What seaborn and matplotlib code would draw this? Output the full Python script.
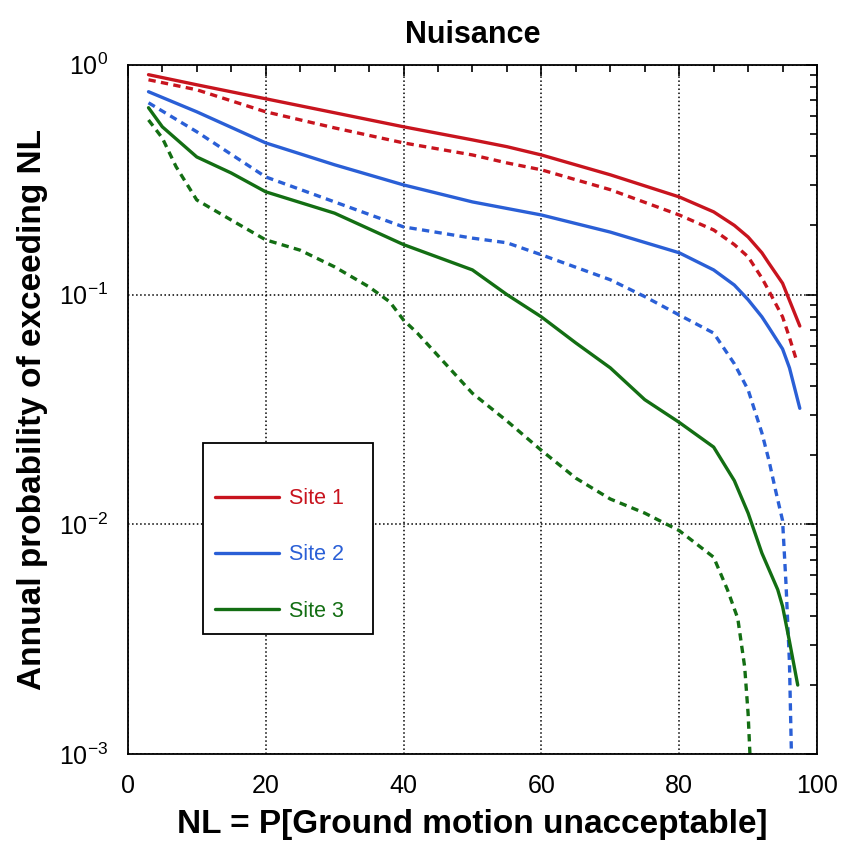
import matplotlib
matplotlib.use("Agg")
import matplotlib.pyplot as plt
from matplotlib.lines import Line2D
from matplotlib.patches import Rectangle
from matplotlib.ticker import MultipleLocator, LogLocator, NullFormatter
import numpy as np
import pandas as pd
import seaborn as sns

# Data (NL in %, annual probability)
site1_x = [3, 10, 20, 30, 40, 50, 55, 60, 70, 80, 85, 88, 90, 92, 93, 95, 97.5]
site1_y = [0.905, 0.818, 0.711, 0.618, 0.537, 0.471, 0.44, 0.405, 0.332, 0.266, 0.229, 0.2, 0.178, 0.152, 0.137, 0.112, 0.073]
site1d_x = [3, 10, 20, 30, 40, 50, 55, 60, 70, 80, 85, 88, 90, 92, 93, 95, 96, 97]
site1d_y = [0.86, 0.778, 0.624, 0.531, 0.457, 0.405, 0.374, 0.349, 0.286, 0.222, 0.191, 0.165, 0.146, 0.118, 0.104, 0.08, 0.065, 0.052]

site2_x = [3, 10, 20, 30, 40, 50, 60, 70, 80, 85, 88, 90, 92, 93, 95, 96, 97.5]
site2_y = [0.763, 0.624, 0.457, 0.367, 0.30, 0.253, 0.222, 0.187, 0.152, 0.128, 0.11, 0.095, 0.08, 0.072, 0.058, 0.048, 0.032]
site2d_x = [3, 10, 20, 30, 40, 50, 55, 60, 70, 75, 80, 85, 88, 90, 92, 93, 94, 95, 95.5, 96, 96.3]
site2d_y = [0.683, 0.511, 0.325, 0.253, 0.197, 0.176, 0.168, 0.149, 0.116, 0.098, 0.0815, 0.068, 0.05,
            0.0385, 0.025, 0.0191, 0.014, 0.0104, 0.0055, 0.0025, 0.00095]

site3_x = [3, 5, 10, 15, 20, 30, 40, 50, 55, 60, 65, 70, 75, 80, 85, 88, 90, 92, 94.3, 95, 96, 97.2]
site3_y = [0.65, 0.537, 0.397, 0.338, 0.28, 0.226, 0.165, 0.128, 0.10, 0.08, 0.0616, 0.048, 0.0349, 0.0278, 0.0217,
           0.0155, 0.0112, 0.0075, 0.0052, 0.0044, 0.0031, 0.0020]
site3d_x = [3, 5, 7, 10, 15, 20, 25, 30, 35, 38, 40, 42, 50, 55, 60, 65, 70, 75, 80, 85, 87, 88.5, 89.5, 90, 90.3]
site3d_y = [0.575, 0.48, 0.36, 0.258, 0.211, 0.173, 0.156, 0.132, 0.108, 0.093, 0.0775, 0.068, 0.0372, 0.0282,
            0.021, 0.0159, 0.0129, 0.0112, 0.0094, 0.0072, 0.0052, 0.0039, 0.0024, 0.0015, 0.00095]

sites = ["Site 1", "Site 2", "Site 3"]
colors = ["#c8141e", "#2a5fd6", "#136e13"]


def main():
    sns.set_style("white")
    plt.rcParams["font.family"] = ["Liberation Sans", "DejaVu Sans"]
    plt.rcParams["mathtext.fontset"] = "custom"
    plt.rcParams["mathtext.rm"] = "Liberation Sans"
    plt.rcParams["mathtext.it"] = "Liberation Sans"
    plt.rcParams["mathtext.bf"] = "Liberation Sans:bold"
    plt.rcParams["text.color"] = "black"
    plt.rcParams["axes.labelcolor"] = "black"
    plt.rcParams["xtick.color"] = "black"
    plt.rcParams["ytick.color"] = "black"

    rows = []
    for site, xs, ys, case in [
        ("Site 1", site1_x, site1_y, "a"), ("Site 1", site1d_x, site1d_y, "b"),
        ("Site 2", site2_x, site2_y, "a"), ("Site 2", site2d_x, site2d_y, "b"),
        ("Site 3", site3_x, site3_y, "a"), ("Site 3", site3d_x, site3d_y, "b"),
    ]:
        for x, y in zip(xs, ys):
            rows.append({"NL": x, "p": y, "site": site, "case": case})
    df = pd.DataFrame(rows)

    fig = plt.figure(figsize=(8.41, 8.63), dpi=100)
    ax = fig.add_axes([0.152, 0.126, 0.8195, 0.799])

    sns.lineplot(data=df, x="NL", y="p", hue="site", style="case", hue_order=sites,
                 palette=colors, dashes={"a": "", "b": (2.2, 1.6)}, linewidth=2.4,
                 sort=False, estimator=None, legend=False, ax=ax)

    ax.set_yscale("log")
    ax.set_xlim(0, 100)
    ax.set_ylim(1e-3, 1)
    ax.xaxis.set_major_locator(MultipleLocator(20))
    ax.xaxis.set_minor_locator(MultipleLocator(5))
    ax.yaxis.set_major_locator(LogLocator(base=10, numticks=10))
    ax.yaxis.set_minor_locator(LogLocator(base=10, subs=np.arange(2, 10), numticks=10))
    ax.yaxis.set_minor_formatter(NullFormatter())

    ax.grid(True, which="major", color="black", linestyle=":", linewidth=1.1)
    ax.tick_params(which="both", direction="in", top=True, right=True)
    ax.tick_params(which="major", length=8, width=1.2, labelsize=18)
    ax.tick_params(axis="x", which="major", pad=14)
    ax.tick_params(axis="y", which="major", pad=14)
    ax.tick_params(which="minor", length=5, width=1.2)
    for s in ax.spines.values():
        s.set_color("black")
        s.set_linewidth(1.3)

    ax.set_title("Nuisance", fontsize=22, fontweight="bold", pad=16)
    ax.set_xlabel("NL = P[Ground motion unacceptable]", fontsize=24, fontweight="bold", labelpad=8)
    ax.set_ylabel("Annual probability of exceeding NL", fontsize=24, fontweight="bold", labelpad=8)

    # legend box drawn as a frame, entries placed inside it
    ax.add_patch(Rectangle((0.109, 0.174), 0.247, 0.277, transform=ax.transAxes,
                           facecolor="white", edgecolor="black", linewidth=1.3, zorder=4))
    handles = [Line2D([], [], color=c, linewidth=2.4) for c in colors]
    leg = ax.legend(handles, sites, loc="upper left", bbox_to_anchor=(0.126, 0.386),
                    fontsize=15.5, frameon=False, handlelength=3.0, borderpad=0,
                    labelspacing=1.64, handletextpad=0.45, borderaxespad=0)
    leg.set_zorder(5)
    for txt, c in zip(leg.get_texts(), colors):
        txt.set_color(c)

    fig.savefig("out.png", dpi=100)


if __name__ == "__main__":
    main()
